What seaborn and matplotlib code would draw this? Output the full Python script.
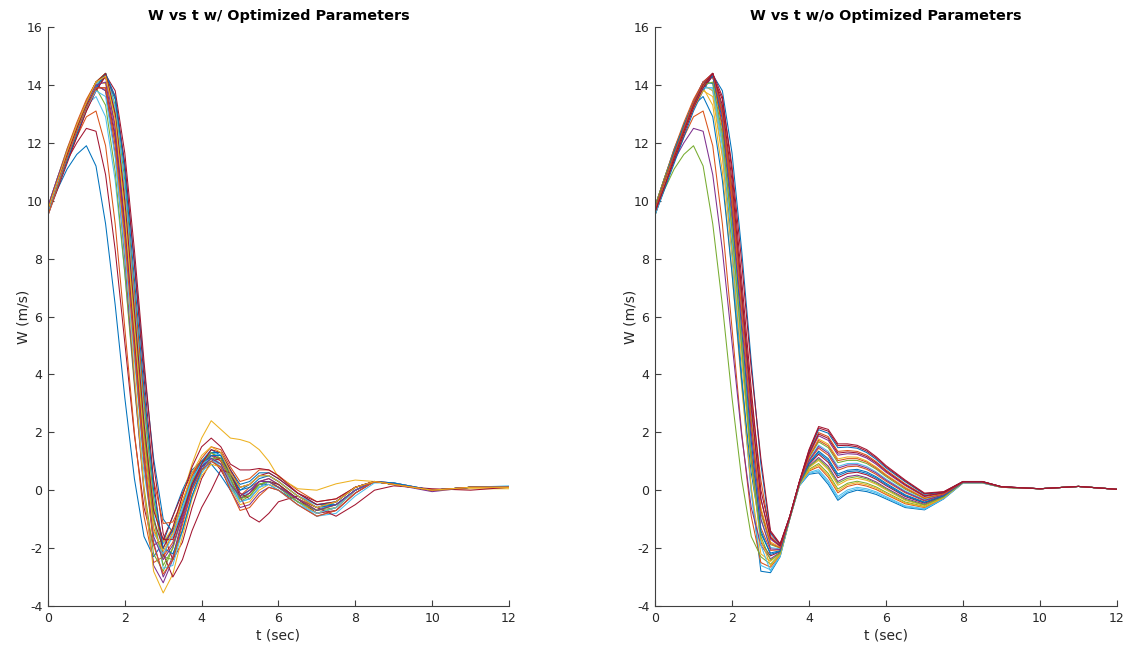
import matplotlib
matplotlib.use("Agg")
import matplotlib.pyplot as plt
import pandas as pd
import seaborn as sns

# time grid (s)
t_sec = [0, 0.25, 0.5, 0.75, 1.0, 1.25, 1.5, 1.75, 2.0, 2.25, 2.5, 2.75,
         3.0, 3.25, 3.5, 3.75, 4.0, 4.25, 4.5, 4.75, 5.0, 5.25, 5.5, 5.75,
         6.0, 6.5, 7.0, 7.5, 8.0, 8.5, 9.0, 10.0, 11.0, 12.0]

# W (m/s) runs, with optimized parameters
left_w = [
    [9.6, 10.4, 11.1, 11.6, 11.9, 11.2, 9.2, 6.4, 3.2, 0.4, -1.6, -2.3, -1.8, -0.9, 0.0, 0.7, 1.0, 0.9, 0.5, 0.0, -0.2, 0.0, 0.2, 0.2, 0.0, -0.4, -0.7, -0.4, 0.1, 0.3, 0.2, 0.0, 0.1, 0.1],
    [9.7, 10.6, 11.4, 12.0, 12.5, 12.4, 10.9, 8.3, 5.1, 1.9, -0.6, -1.9, -1.7, -0.9, -0.1, 0.6, 1.0, 1.1, 0.7, 0.1, -0.3, -0.1, 0.2, 0.3, 0.1, -0.3, -0.6, -0.4, 0.1, 0.3, 0.2, 0.0, 0.1, 0.1],
    [9.5, 10.5, 11.4, 12.2, 12.9, 13.1, 11.9, 9.2, 5.6, 2.0, -0.9, -2.5, -2.3, -1.4, -0.4, 0.5, 1.0, 1.3, 1.0, 0.3, -0.3, -0.1, 0.3, 0.4, 0.2, -0.3, -0.7, -0.5, 0.0, 0.3, 0.2, 0.0, 0.1, 0.1],
    [9.8, 10.8, 11.8, 12.6, 13.3, 13.6, 12.9, 10.7, 7.5, 3.8, 0.6, -1.5, -2.0, -1.4, -0.5, 0.4, 0.9, 1.2, 0.9, 0.2, -0.3, 0.0, 0.3, 0.3, 0.1, -0.4, -0.7, -0.4, 0.1, 0.3, 0.2, 0.0, 0.1, 0.1],
    [9.6, 10.6, 11.6, 12.5, 13.3, 13.9, 13.3, 11.0, 7.5, 3.6, 0.1, -2.2, -2.8, -2.0, -0.9, 0.2, 0.8, 1.1, 0.9, 0.2, -0.4, -0.2, 0.2, 0.3, 0.1, -0.3, -0.8, -0.6, 0.0, 0.3, 0.2, 0.0, 0.1, 0.1],
    [9.7, 10.7, 11.7, 12.6, 13.4, 14.0, 13.8, 12.0, 9.0, 5.4, 2.0, -0.6, -1.8, -1.4, -0.5, 0.4, 1.0, 1.4, 1.2, 0.5, 0.0, 0.2, 0.5, 0.5, 0.3, -0.2, -0.5, -0.4, 0.1, 0.3, 0.2, 0.0, 0.1, 0.1],
    [9.7, 10.7, 11.7, 12.6, 13.4, 14.1, 14.3, 12.5, 9.2, 5.2, 1.4, -1.3, -2.3, -1.8, -0.7, 0.3, 0.9, 1.2, 1.0, 0.3, -0.2, 0.1, 0.3, 0.3, 0.1, -0.3, -0.6, -0.4, 0.1, 0.3, 0.2, 0.0, 0.1, 0.1],
    [9.6, 10.6, 11.6, 12.5, 13.4, 14.0, 14.3, 12.6, 9.3, 5.2, 1.2, -1.8, -3.0, -2.3, -1.0, 0.1, 0.8, 1.2, 1.1, 0.4, -0.3, -0.1, 0.3, 0.4, 0.2, -0.4, -0.8, -0.6, 0.0, 0.3, 0.2, -0.05, 0.1, 0.1],
    [9.8, 10.8, 11.7, 12.6, 13.4, 14.1, 14.4, 13.1, 10.3, 6.6, 2.8, -0.3, -1.85, -1.6, -0.7, 0.3, 0.9, 1.3, 1.2, 0.6, 0.1, 0.2, 0.5, 0.5, 0.3, -0.2, -0.5, -0.4, 0.1, 0.3, 0.2, 0.0, 0.1, 0.1],
    [9.6, 10.5, 11.5, 12.4, 13.3, 14.0, 14.4, 13.3, 10.7, 6.9, 3.0, -0.3, -2.3, -2.4, -1.4, -0.2, 0.6, 1.1, 1.1, 0.5, -0.2, -0.2, 0.2, 0.3, 0.2, -0.3, -0.7, -0.6, 0.0, 0.3, 0.2, 0.0, 0.1, 0.1],
    [9.7, 10.6, 11.5, 12.4, 13.2, 13.9, 14.3, 13.5, 11.2, 7.9, 4.2, 1.1, -1.0, -1.45, -0.8, 0.1, 0.8, 1.3, 1.3, 0.7, 0.2, 0.3, 0.6, 0.6, 0.4, -0.1, -0.5, -0.5, 0.0, 0.3, 0.25, 0.0, 0.1, 0.1],
    [9.5, 10.4, 11.3, 12.2, 13.1, 13.8, 14.35, 13.8, 11.65, 8.3, 4.45, 0.9, -1.5, -2.4, -1.8, -0.6, 0.4, 1.0, 1.1, 0.6, -0.1, -0.3, 0.1, 0.3, 0.2, -0.3, -0.8, -0.7, -0.1, 0.3, 0.25, 0.0, 0.1, 0.1],
    [9.7, 10.7, 11.6, 12.5, 13.3, 14.0, 13.8, 11.6, 8.0, 3.75, -0.1, -2.6, -3.2, -2.4, -1.1, 0.0, 0.7, 1.0, 0.8, 0.0, -0.6, -0.5, -0.1, 0.1, 0.0, -0.5, -0.9, -0.7, -0.1, 0.3, 0.2, 0.0, 0.1, 0.1],
    [9.6, 10.6, 11.6, 12.5, 13.4, 14.1, 14.05, 12.0, 8.4, 4.0, 0.0, -2.8, -3.55, -2.9, -1.6, -0.3, 0.5, 0.9, 0.8, 0.1, -0.5, -0.4, 0.0, 0.2, 0.1, -0.4, -0.8, -0.6, 0.0, 0.3, 0.2, 0.0, 0.1, 0.1],
    [9.8, 10.8, 11.8, 12.7, 13.5, 14.1, 14.3, 13.0, 10.3, 6.8, 3.2, 0.35, -1.15, -1.1, -0.4, 0.5, 1.1, 1.5, 1.4, 0.8, 0.3, 0.4, 0.7, 0.7, 0.5, 0.0, -0.4, -0.3, 0.1, 0.3, 0.2, 0.0, 0.1, 0.1],
    [9.5, 10.5, 11.5, 12.4, 13.3, 14.0, 14.4, 13.2, 10.4, 6.5, 2.5, -0.8, -2.7, -2.6, -1.4, -0.2, 0.6, 1.0, 0.9, 0.3, -0.4, -0.3, 0.1, 0.3, 0.1, -0.4, -0.9, -0.8, -0.2, 0.25, 0.25, 0.0, 0.1, 0.15],
    [9.7, 10.7, 11.7, 12.6, 13.4, 14.1, 14.4, 13.0, 10.0, 6.2, 2.4, -0.6, -1.8, -1.3, -0.2, 0.9, 1.8, 2.4, 2.1, 1.8, 1.75, 1.65, 1.4, 1.0, 0.45, 0.05, 0.0, 0.22, 0.35, 0.3, 0.2, 0.0, 0.05, 0.05],
    [9.6, 10.5, 11.4, 12.3, 13.1, 13.8, 14.3, 13.6, 11.3, 7.8, 3.9, 0.3, -2.2, -3.0, -2.4, -1.4, -0.6, 0.0, 0.7, 0.6, -0.2, -0.9, -1.1, -0.8, -0.4, -0.2, -0.6, -0.9, -0.5, 0.0, 0.15, 0.05, 0.0, 0.1],
    [9.7, 10.7, 11.6, 12.5, 13.3, 13.9, 13.9, 12.2, 9.1, 5.3, 1.6, -1.0, -2.0, -1.3, -0.2, 0.8, 1.5, 1.8, 1.5, 0.9, 0.7, 0.7, 0.75, 0.7, 0.5, -0.1, -0.4, -0.3, 0.1, 0.3, 0.2, 0.0, 0.1, 0.1],
    [9.7, 10.7, 11.6, 12.5, 13.4, 14.1, 14.4, 12.9, 9.8, 5.9, 2.0, -1.0, -2.6, -2.0, -0.8, 0.3, 0.9, 1.3, 1.1, 0.4, -0.3, -0.2, 0.2, 0.3, 0.1, -0.4, -0.7, -0.5, 0.0, 0.3, 0.2, 0.0, 0.1, 0.1],
    [9.6, 10.5, 11.4, 12.3, 13.2, 13.9, 14.4, 13.6, 11.0, 7.3, 3.5, 0.0, -2.0, -2.2, -1.4, -0.2, 0.7, 1.2, 1.2, 0.6, 0.0, 0.1, 0.4, 0.5, 0.3, -0.2, -0.6, -0.5, 0.0, 0.3, 0.25, 0.0, 0.1, 0.1],
    [9.6, 10.6, 11.5, 12.4, 13.2, 13.8, 13.6, 11.5, 8.2, 4.5, 0.9, -1.7, -2.2, -1.6, -0.6, 0.4, 0.9, 1.1, 0.8, 0.1, -0.4, -0.3, 0.1, 0.2, 0.0, -0.5, -0.8, -0.6, 0.0, 0.3, 0.2, 0.0, 0.1, 0.1],
    [9.8, 10.8, 11.7, 12.6, 13.4, 14.0, 14.1, 12.3, 9.0, 5.0, 1.0, -1.6, -2.4, -1.9, -0.9, 0.2, 0.8, 1.1, 0.9, 0.2, -0.2, 0.0, 0.3, 0.3, 0.1, -0.3, -0.7, -0.5, 0.0, 0.3, 0.2, 0.0, 0.1, 0.1],
    [9.7, 10.7, 11.6, 12.5, 13.4, 14.1, 14.4, 13.0, 10.0, 6.2, 2.3, -0.7, -1.7, -1.7, -0.8, 0.2, 0.9, 1.4, 1.3, 0.7, 0.1, 0.2, 0.5, 0.6, 0.4, -0.1, -0.5, -0.4, 0.1, 0.3, 0.2, 0.0, 0.1, 0.1],
    [9.5, 10.5, 11.5, 12.4, 13.2, 13.9, 13.9, 11.9, 8.7, 4.8, 1.0, -1.9, -2.9, -2.4, -1.2, 0.0, 0.7, 1.0, 0.8, 0.0, -0.7, -0.6, -0.2, 0.1, 0.0, -0.5, -0.9, -0.7, -0.1, 0.3, 0.2, 0.0, 0.1, 0.1],
    [9.7, 10.7, 11.7, 12.6, 13.4, 14.1, 14.3, 12.8, 9.6, 5.6, 1.7, -1.4, -2.1, -1.5, -0.4, 0.6, 1.2, 1.5, 1.3, 0.6, 0.1, 0.2, 0.5, 0.5, 0.3, -0.2, -0.6, -0.4, 0.1, 0.3, 0.2, 0.0, 0.1, 0.1],
]

# W (m/s) runs, without optimized parameters
right_w = [
    [9.6, 10.6, 11.6, 12.5, 13.4, 14.1, 14.05, 12.0, 8.4, 4.0, 0.0, -2.8, -2.85, -2.3, -1.0, 0.15, 0.55, 0.6, 0.2, -0.35, -0.1, 0.0, -0.05, -0.15, -0.3, -0.6, -0.68, -0.3, 0.25, 0.25, 0.1, 0.05, 0.13, 0.03],
    [9.7, 10.7, 11.6, 12.5, 13.3, 14.0, 13.8, 11.6, 8.0, 3.75, -0.1, -2.6, -2.75, -2.27, -0.99, 0.16, 0.61, 0.71, 0.33, -0.22, 0.01, 0.1, 0.05, -0.06, -0.22, -0.54, -0.64, -0.28, 0.25, 0.25, 0.1, 0.05, 0.13, 0.03],
    [9.5, 10.5, 11.4, 12.2, 12.9, 13.1, 11.9, 9.2, 5.6, 2.0, -0.9, -2.5, -2.66, -2.24, -0.99, 0.17, 0.66, 0.81, 0.45, -0.09, 0.13, 0.21, 0.14, 0.02, -0.15, -0.47, -0.6, -0.27, 0.26, 0.26, 0.1, 0.05, 0.13, 0.03],
    [9.6, 10.4, 11.1, 11.6, 11.9, 11.2, 9.2, 6.4, 3.2, 0.4, -1.6, -2.3, -2.56, -2.21, -0.98, 0.18, 0.72, 0.92, 0.58, 0.04, 0.24, 0.31, 0.24, 0.11, -0.07, -0.41, -0.56, -0.25, 0.26, 0.26, 0.1, 0.05, 0.13, 0.03],
    [9.6, 10.6, 11.6, 12.5, 13.3, 13.9, 13.3, 11.0, 7.5, 3.6, 0.1, -2.2, -2.46, -2.18, -0.97, 0.19, 0.78, 1.03, 0.71, 0.17, 0.35, 0.41, 0.34, 0.2, 0.01, -0.35, -0.53, -0.23, 0.26, 0.26, 0.11, 0.05, 0.13, 0.03],
    [9.7, 10.6, 11.4, 12.0, 12.5, 12.4, 10.9, 8.3, 5.1, 1.9, -0.6, -1.9, -2.37, -2.15, -0.97, 0.2, 0.83, 1.13, 0.83, 0.3, 0.47, 0.52, 0.43, 0.28, 0.08, -0.28, -0.49, -0.22, 0.27, 0.27, 0.11, 0.05, 0.13, 0.03],
    [9.6, 10.6, 11.6, 12.5, 13.4, 14.0, 14.3, 12.6, 9.3, 5.2, 1.2, -1.8, -2.27, -2.12, -0.96, 0.21, 0.89, 1.24, 0.96, 0.43, 0.58, 0.62, 0.53, 0.37, 0.16, -0.22, -0.45, -0.2, 0.27, 0.27, 0.11, 0.05, 0.13, 0.03],
    [9.8, 10.8, 11.8, 12.6, 13.3, 13.6, 12.9, 10.7, 7.5, 3.8, 0.6, -1.5, -2.17, -2.09, -0.95, 0.22, 0.95, 1.35, 1.09, 0.56, 0.69, 0.72, 0.63, 0.46, 0.24, -0.16, -0.41, -0.18, 0.27, 0.27, 0.11, 0.05, 0.13, 0.03],
    [9.7, 10.7, 11.7, 12.6, 13.4, 14.1, 14.3, 12.5, 9.2, 5.2, 1.4, -1.3, -2.08, -2.06, -0.95, 0.23, 1.0, 1.45, 1.21, 0.69, 0.81, 0.83, 0.72, 0.54, 0.31, -0.09, -0.37, -0.17, 0.28, 0.28, 0.11, 0.05, 0.13, 0.03],
    [9.7, 10.7, 11.6, 12.5, 13.3, 13.9, 13.9, 12.2, 9.1, 5.3, 1.6, -1.0, -1.98, -2.03, -0.94, 0.24, 1.06, 1.56, 1.34, 0.82, 0.92, 0.93, 0.82, 0.63, 0.39, -0.03, -0.33, -0.15, 0.28, 0.28, 0.11, 0.05, 0.13, 0.03],
    [9.5, 10.5, 11.5, 12.4, 13.3, 14.0, 14.4, 13.2, 10.4, 6.5, 2.5, -0.8, -1.88, -2.0, -0.93, 0.25, 1.12, 1.67, 1.47, 0.95, 1.03, 1.03, 0.92, 0.72, 0.47, 0.03, -0.29, -0.13, 0.28, 0.28, 0.11, 0.05, 0.13, 0.03],
    [9.7, 10.7, 11.7, 12.6, 13.4, 14.0, 13.8, 12.0, 9.0, 5.4, 2.0, -0.6, -1.79, -1.97, -0.93, 0.26, 1.17, 1.77, 1.59, 1.08, 1.15, 1.14, 1.01, 0.8, 0.54, 0.1, -0.26, -0.12, 0.29, 0.29, 0.11, 0.05, 0.13, 0.03],
    [9.8, 10.8, 11.7, 12.6, 13.4, 14.1, 14.4, 13.1, 10.3, 6.6, 2.8, -0.3, -1.69, -1.94, -0.92, 0.27, 1.23, 1.88, 1.72, 1.21, 1.26, 1.24, 1.11, 0.89, 0.62, 0.16, -0.22, -0.1, 0.29, 0.29, 0.12, 0.05, 0.13, 0.03],
    [9.8, 10.8, 11.8, 12.7, 13.5, 14.1, 14.3, 13.0, 10.3, 6.8, 3.2, 0.35, -1.59, -1.91, -0.91, 0.28, 1.29, 1.99, 1.85, 1.34, 1.37, 1.34, 1.21, 0.98, 0.7, 0.22, -0.18, -0.08, 0.29, 0.29, 0.12, 0.05, 0.13, 0.03],
    [9.5, 10.4, 11.3, 12.2, 13.1, 13.8, 14.35, 13.8, 11.65, 8.3, 4.45, 0.9, -1.5, -1.88, -0.91, 0.29, 1.34, 2.09, 1.97, 1.47, 1.49, 1.45, 1.3, 1.06, 0.77, 0.29, -0.14, -0.07, 0.3, 0.3, 0.12, 0.05, 0.13, 0.03],
    [9.7, 10.6, 11.5, 12.4, 13.2, 13.9, 14.3, 13.5, 11.2, 7.9, 4.2, 1.1, -1.4, -1.85, -0.9, 0.3, 1.4, 2.2, 2.1, 1.6, 1.6, 1.55, 1.4, 1.15, 0.85, 0.35, -0.1, -0.05, 0.3, 0.3, 0.12, 0.05, 0.13, 0.03],
    [9.5, 10.5, 11.5, 12.4, 13.2, 13.9, 13.9, 11.9, 8.7, 4.8, 1.0, -1.9, -2.8, -2.29, -1.0, 0.16, 0.58, 0.66, 0.27, -0.29, -0.05, 0.05, 0.0, -0.1, -0.26, -0.57, -0.66, -0.29, 0.25, 0.25, 0.1, 0.05, 0.13, 0.03],
    [9.6, 10.6, 11.5, 12.4, 13.2, 13.8, 13.6, 11.5, 8.2, 4.5, 0.9, -1.7, -2.61, -2.23, -0.99, 0.18, 0.69, 0.87, 0.52, -0.03, 0.19, 0.26, 0.19, 0.07, -0.11, -0.44, -0.58, -0.26, 0.26, 0.26, 0.1, 0.05, 0.13, 0.03],
    [9.8, 10.8, 11.7, 12.6, 13.4, 14.0, 14.1, 12.3, 9.0, 5.0, 1.0, -1.6, -2.42, -2.17, -0.97, 0.2, 0.81, 1.08, 0.77, 0.24, 0.41, 0.47, 0.39, 0.24, 0.05, -0.32, -0.51, -0.23, 0.27, 0.27, 0.11, 0.05, 0.13, 0.03],
    [9.7, 10.7, 11.7, 12.6, 13.4, 14.1, 14.3, 12.8, 9.6, 5.6, 1.7, -1.4, -2.22, -2.11, -0.96, 0.22, 0.92, 1.3, 1.03, 0.5, 0.64, 0.67, 0.58, 0.42, 0.2, -0.19, -0.43, -0.19, 0.27, 0.27, 0.11, 0.05, 0.13, 0.03],
    [9.7, 10.7, 11.6, 12.5, 13.4, 14.1, 14.4, 12.9, 9.8, 5.9, 2.0, -1.0, -2.03, -2.05, -0.95, 0.24, 1.03, 1.51, 1.28, 0.76, 0.87, 0.88, 0.77, 0.59, 0.35, -0.06, -0.35, -0.16, 0.28, 0.28, 0.11, 0.05, 0.13, 0.03],
    [9.7, 10.7, 11.6, 12.5, 13.4, 14.1, 14.4, 13.0, 10.0, 6.2, 2.3, -0.7, -1.84, -1.99, -0.93, 0.26, 1.15, 1.72, 1.53, 1.02, 1.09, 1.09, 0.97, 0.76, 0.51, 0.07, -0.28, -0.13, 0.29, 0.29, 0.11, 0.05, 0.13, 0.03],
    [9.6, 10.5, 11.5, 12.4, 13.3, 14.0, 14.4, 13.3, 10.7, 6.9, 3.0, -0.3, -1.64, -1.93, -0.92, 0.28, 1.26, 1.94, 1.79, 1.28, 1.32, 1.29, 1.16, 0.94, 0.66, 0.19, -0.2, -0.09, 0.29, 0.29, 0.12, 0.05, 0.13, 0.03],
    [9.6, 10.5, 11.4, 12.3, 13.2, 13.9, 14.4, 13.6, 11.0, 7.3, 3.5, 0.0, -1.45, -1.87, -0.91, 0.29, 1.37, 2.15, 2.04, 1.54, 1.55, 1.5, 1.35, 1.11, 0.81, 0.32, -0.12, -0.06, 0.3, 0.3, 0.12, 0.05, 0.13, 0.03],
]

titles = ["W vs t w/ Optimized Parameters", "W vs t w/o Optimized Parameters"]
x_label = "t (sec)"
y_label = "W (m/s)"
x_ticks = [0, 2, 4, 6, 8, 10, 12]
y_ticks = [-4, -2, 0, 2, 4, 6, 8, 10, 12, 14, 16]

# styles (MATLAB default colour order)
matlab_colors = ["#0072BD", "#D95319", "#EDB120", "#7E2F8E", "#77AC30", "#4DBEEE", "#A2142F"]
left_color_idx = [0, 6, 1, 5, 4, 0, 1, 3, 5, 4, 0, 6, 3, 2, 1, 5, 2, 6, 6,
                  4, 0, 5, 3, 6, 1, 2]
right_color_idx = [0, 5, 1, 4, 2, 3, 6, 0, 1, 5, 4, 2, 3, 1, 0, 6,
                   5, 2, 4, 0, 3, 1, 6, 6]

sns.set_theme(style="ticks")
plt.rcParams["font.family"] = ["DejaVu Sans"]
plt.rcParams["axes.unicode_minus"] = False
axis_col = "#404040"
text_col = "#262626"

fig = plt.figure(figsize=(11.34, 6.49), dpi=100)
ax_l = fig.add_axes([0.0423, 0.0663, 0.4065, 0.892])
ax_r = fig.add_axes([0.5776, 0.0663, 0.4074, 0.892])

for ax, runs, cidx, title in [(ax_l, left_w, left_color_idx, titles[0]),
                               (ax_r, right_w, right_color_idx, titles[1])]:
    rows = []
    for k, run in enumerate(runs):
        for tt, w in zip(t_sec, run):
            rows.append({"t": tt, "W": w, "run": k})
    df = pd.DataFrame(rows)
    pal = [matlab_colors[c] for c in cidx]
    sns.lineplot(data=df, x="t", y="W", hue="run", palette=pal, units="run",
                 estimator=None, sort=False, linewidth=0.75, legend=False, ax=ax)
    ax.set_xlim(0, 12)
    ax.set_ylim(-4, 16)
    ax.set_xticks(x_ticks)
    ax.set_yticks(y_ticks)
    ax.set_xlabel(x_label, fontsize=10, color=text_col, labelpad=3)
    ax.set_ylabel(y_label, fontsize=10, color=text_col, labelpad=-3)
    ax.set_title(title, fontsize=10.4, fontweight="bold", color="black", pad=5)
    for s in ["top", "right"]:
        ax.spines[s].set_visible(False)
    for s in ["left", "bottom"]:
        ax.spines[s].set_color(axis_col)
        ax.spines[s].set_linewidth(0.8)
    ax.tick_params(direction="in", length=4, width=0.8, color=axis_col,
                   labelsize=9, labelcolor=text_col, pad=4)

fig.savefig("out.png", dpi=100)
